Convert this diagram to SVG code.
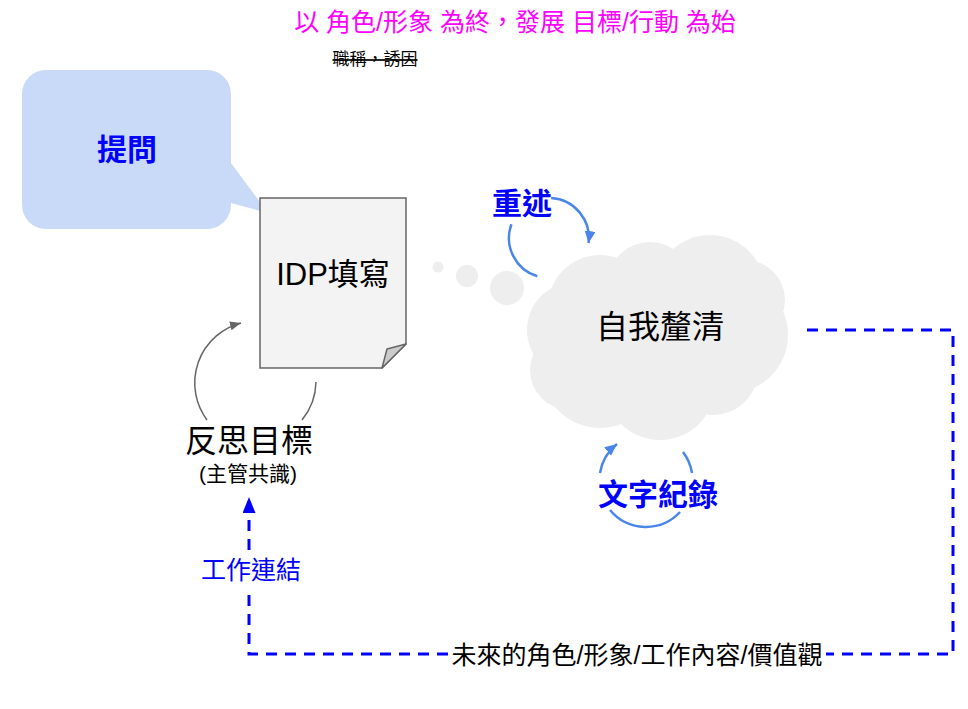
<svg xmlns="http://www.w3.org/2000/svg" width="968" height="709" viewBox="0 0 968 709">
  <style>
    text { font-family: "Liberation Sans", "Noto Sans CJK TC", sans-serif; text-anchor: middle; }
    .blueb { fill: #0000ff; font-weight: bold; font-size: 30px; }
    .black { fill: #000000; }
    .gray-arc { fill: none; stroke: #666666; stroke-width: 1.5; }
    .blue-arc { fill: none; stroke: #4a86e8; stroke-width: 2.5; }
    .dash { fill: none; stroke: #0000ff; stroke-width: 3; stroke-dasharray: 11 8; }
    .cloud { fill: #eeeeee; }
  </style>
  <defs>
    <marker id="grayArrow" markerUnits="userSpaceOnUse" markerWidth="12" markerHeight="10" refX="11" refY="4.5" orient="auto">
      <path d="M0,0 L11,4.5 L0,9 Z" fill="#666666"/>
    </marker>
    <marker id="blueArcArrow" markerUnits="userSpaceOnUse" markerWidth="13" markerHeight="12" refX="12" refY="5.5" orient="auto">
      <path d="M0,0 L12,5.5 L0,11 Z" fill="#4a86e8"/>
    </marker>
    <marker id="dashArrow" markerUnits="userSpaceOnUse" markerWidth="17" markerHeight="14" refX="16" refY="6.5" orient="auto">
      <path d="M0,0 L16,6.5 L0,13 Z" fill="#0000ff"/>
    </marker>
  </defs>

  <rect width="968" height="709" fill="#ffffff"/>

  <g id="title">
    <text x="515" y="31" font-size="25" fill="#ff00ff">以 角色/形象 為終，發展 目標/行動 為始</text>
  </g>
  <g id="note-strike">
    <text x="375" y="65" font-size="17" class="black" text-decoration="line-through">職稱，誘因</text>
  </g>

  <g id="bubble-question">
    <path d="M46 70 H207 A24 24 0 0 1 231 94 V163 L268 213 L231 203 V205 A24 24 0 0 1 207 229 H46 A24 24 0 0 1 22 205 V94 A24 24 0 0 1 46 70 Z" fill="#c9daf8"/>
    <text x="127" y="160" class="blueb">提問</text>
  </g>

  <g id="idp-doc">
    <path d="M260 198 H406 V344 L382 368 H260 Z" fill="#f3f3f3" stroke="#666666" stroke-width="1.5"/>
    <path d="M406 344 L382 368 L387 349 Z" fill="#cccccc" stroke="#666666" stroke-width="1.5" stroke-linejoin="round"/>
    <text x="333" y="285" font-size="31" class="black">IDP填寫</text>
  </g>

  <g id="thought-dots" class="cloud">
    <circle cx="438" cy="267" r="5.5"/>
    <circle cx="467" cy="276" r="11"/>
    <circle cx="507" cy="288" r="17"/>
  </g>

  <g id="cloud-self">
    <g class="cloud">
      <ellipse cx="658" cy="337" rx="105" ry="75"/>
      <circle cx="600" cy="307" r="52"/>
      <circle cx="650" cy="285" r="43"/>
      <circle cx="710" cy="290" r="55"/>
      <circle cx="745" cy="300" r="40"/>
      <circle cx="730" cy="335" r="58"/>
      <circle cx="713" cy="370" r="45"/>
      <circle cx="660" cy="385" r="55"/>
      <circle cx="600" cy="370" r="58"/>
      <circle cx="570" cy="370" r="40"/>
      <circle cx="575" cy="330" r="48"/>
    </g>
    <text x="660" y="338" font-size="32" class="black">自我釐清</text>
  </g>

  <g id="label-restate">
    <text x="522" y="214" class="blueb">重述</text>
  </g>
  <g id="label-record">
    <text x="658" y="505" class="blueb" font-size="31">文字紀錄</text>
  </g>

  <g id="goal">
    <text x="249" y="452" font-size="32" class="black">反思目標</text>
    <text x="248" y="481" font-size="21" class="black">(主管共識)</text>
  </g>

  <g id="label-link">
    <text x="251" y="579" font-size="25" fill="#0000ff">工作連結</text>
  </g>
  <g id="label-future">
    <text x="637" y="664" font-size="25" class="black">未來的角色/形象/工作內容/價值觀</text>
  </g>

  <g id="connectors">
    <path class="gray-arc" d="M207 420 A62 62 0 0 1 241 323" marker-end="url(#grayArrow)"/>
    <path class="gray-arc" d="M316 382 A62 62 0 0 1 302 420"/>

    <path class="blue-arc" d="M537.3 276.3 A40 40 0 0 1 511.4 224.3"/>
    <path class="blue-arc" d="M551.1 198.1 A40 40 0 0 1 588.6 243" marker-end="url(#blueArcArrow)"/>

    <path class="blue-arc" d="M600 473 A46.5 46.5 0 0 1 617 444" marker-end="url(#blueArcArrow)"/>
    <path class="blue-arc" d="M683 452 A46.5 46.5 0 0 1 692 473"/>
    <path class="blue-arc" d="M680 512 A46.5 46.5 0 0 1 610 510"/>

    <path class="dash" d="M807 330 H953 V654 H826"/>
    <path class="dash" d="M448 654 H249 V588"/>
    <path class="dash" d="M249 550 V497" marker-end="url(#dashArrow)"/>
  </g>
</svg>
